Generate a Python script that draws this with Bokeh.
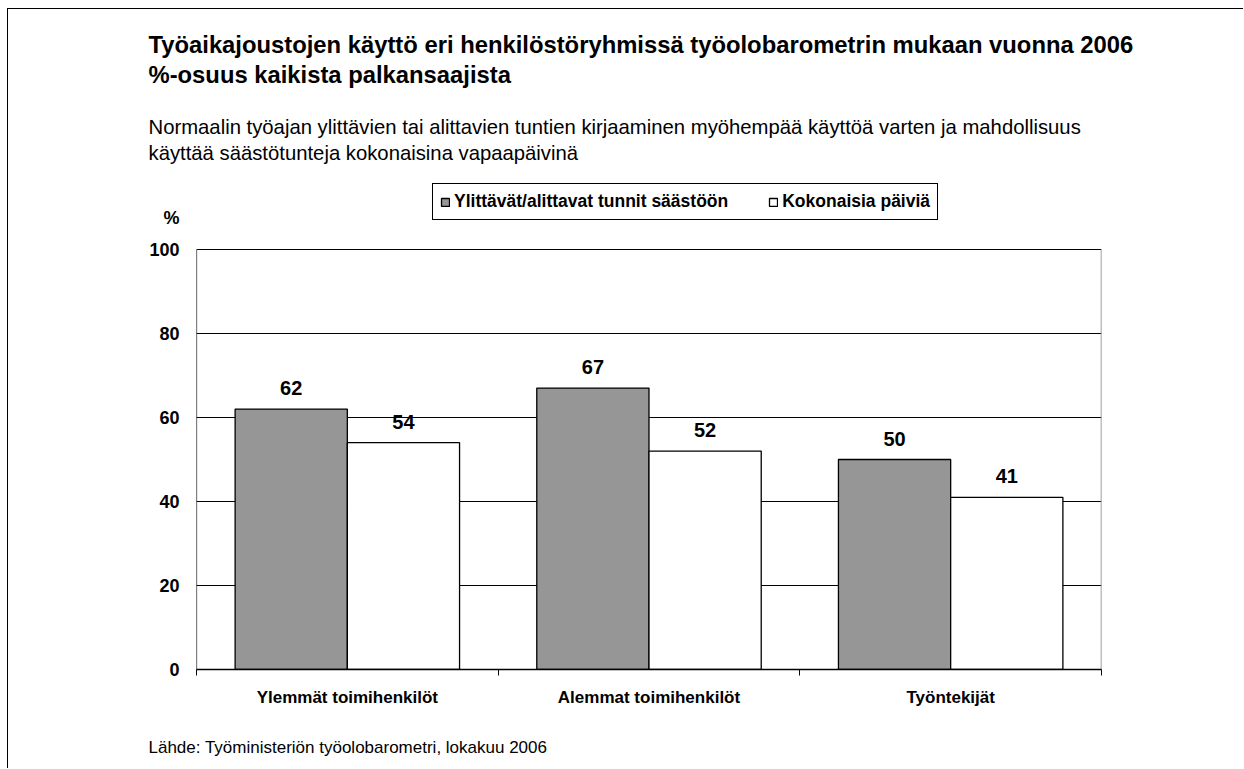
from bokeh.plotting import figure
from bokeh.models import (Range1d, FixedTicker, Legend, LegendItem, Title,
                          ColumnDataSource)
from bokeh.core.properties import value
from bokeh.embed import file_html
from bokeh.resources import INLINE

# ---- data ----
categories = ["Ylemmät toimihenkilöt", "Alemmat toimihenkilöt", "Työntekijät"]
series_names = ["Ylittävät/alittavat tunnit säästöön", "Kokonaisia päiviä"]
hours_saved = [62, 67, 50]
whole_days = [54, 52, 41]
y_ticks = [0, 20, 40, 60, 80, 100]
y_unit_label = "%"

title_lines = ["Työaikajoustojen käyttö eri henkilöstöryhmissä työolobarometrin mukaan vuonna 2006",
               "%-osuus kaikista palkansaajista"]
subtitle_lines = ["Normaalin työajan ylittävien tai alittavien tuntien kirjaaminen myöhempää käyttöä varten ja mahdollisuus",
                  "käyttää säästötunteja kokonaisina vapaapäivinä"]
source_text = "Lähde: Työministeriön työolobarometri, lokakuu 2006"

FONT = "Liberation Sans"
W, H = 1236, 760
BAR_W = 0.372
Y_TOP = 120.24     # frame extends above 100 to hold the legend
UNIT_POS = 107.4   # vertical position of the "%" unit label

p = figure(width=W, height=H, output_backend="svg", toolbar_location=None,
           x_range=Range1d(0, len(categories)), y_range=Range1d(0, Y_TOP),
           min_border_left=188, min_border_right=143, min_border_top=155, min_border_bottom=100)
p.outline_line_color = None
p.background_fill_color = "white"
p.border_fill_color = "white"
p.styles = {"border-top": "1px solid black", "border-left": "1px solid black",
            "margin-left": "7px", "margin-top": "8px"}

centers = [i + 0.5 for i in range(len(categories))]
x1 = [c - BAR_W / 2 for c in centers]
x2 = [c + BAR_W / 2 for c in centers]

src1 = ColumnDataSource(dict(x=x1, top=hours_saved, lab=[str(v) for v in hours_saved]))
src2 = ColumnDataSource(dict(x=x2, top=whole_days, lab=[str(v) for v in whole_days]))

# frame lines: left axis line (black) and right edge (grey)
p.segment(x0=[0], y0=[0], x1=[0], y1=[y_ticks[-1]], line_color="black", line_width=1.2)
p.segment(x0=[len(categories)], y0=[0], x1=[len(categories)], y1=[y_ticks[-1]],
          line_color="#808080", line_width=1.5)

r1 = p.vbar(x="x", top="top", bottom=0, width=BAR_W, source=src1,
            fill_color="#969696", line_color="black", line_width=1.3)
r2 = p.vbar(x="x", top="top", bottom=0, width=BAR_W, source=src2,
            fill_color="white", line_color="black", line_width=1.3)

for s in (src1, src2):
    p.text(x="x", y="top", text="lab", source=s, text_align="center", text_baseline="middle",
           y_offset=-21, text_font=value(FONT), text_font_style="bold",
           text_font_size="20px", text_color="black")

# x axis
p.xaxis.ticker = FixedTicker(ticks=centers, minor_ticks=list(range(len(categories) + 1)))
p.xaxis.major_label_overrides = {c: lab for c, lab in zip(centers, categories)}
p.xaxis.major_tick_line_color = None
p.xaxis.major_tick_out = 0
p.xaxis.major_tick_in = 0
p.xaxis.minor_tick_line_color = "black"
p.xaxis.minor_tick_in = 0
p.xaxis.minor_tick_out = 6
p.xaxis.axis_line_color = "black"
p.xaxis.axis_line_width = 1.3
p.xaxis.major_label_text_font = FONT
p.xaxis.major_label_text_font_style = "bold"
p.xaxis.major_label_text_font_size = "17px"
p.xaxis.major_label_text_color = "black"
p.xaxis.major_label_standoff = 12

# y axis (with the unit "%" as an extra label above 100)
p.yaxis.ticker = FixedTicker(ticks=y_ticks + [UNIT_POS])
p.yaxis.major_label_overrides = {UNIT_POS: y_unit_label}
p.yaxis.major_tick_line_color = None
p.yaxis.major_tick_out = 0
p.yaxis.major_tick_in = 0
p.yaxis.minor_tick_line_color = None
p.yaxis.axis_line_color = None
p.yaxis.major_label_text_font = FONT
p.yaxis.major_label_text_font_style = "bold"
p.yaxis.major_label_text_font_size = "18px"
p.yaxis.major_label_text_color = "black"
p.yaxis.major_label_standoff = 17

p.xgrid.grid_line_color = None
p.ygrid.ticker = FixedTicker(ticks=y_ticks)
p.ygrid.grid_line_color = "black"
p.ygrid.grid_line_width = 1

# legend (inside the frame, above the 100 line)
legend = Legend(items=[LegendItem(label=series_names[0], renderers=[r1]),
                       LegendItem(label=series_names[1], renderers=[r2])],
                orientation="horizontal", location=(236, 449))
legend.label_text_font = FONT
legend.label_text_font_style = "bold"
legend.label_text_font_size = "17.5px"
legend.label_text_color = "black"
legend.label_height = 18
legend.glyph_width = 10
legend.glyph_height = 10
legend.label_standoff = 4
legend.spacing = 40
legend.padding = 7
legend.margin = 0
legend.border_line_color = "black"
legend.border_line_alpha = 1
legend.border_line_width = 1
legend.background_fill_color = "white"
legend.background_fill_alpha = 1
p.add_layout(legend)

# titles (panels stack outward from the frame, nearest first)
def add_title(text, size, bold, standoff, side="above"):
    p.add_layout(Title(text=text, align="left", offset=-48, standoff=standoff,
                       text_font=FONT, text_font_size=size,
                       text_font_style="bold" if bold else "normal",
                       text_color="black"), side)

add_title(subtitle_lines[1], "20.3px", False, 2)
add_title(subtitle_lines[0], "20.3px", False, 1)
add_title("\u00a0", "16px", False, 7)            # vertical spacer
add_title(title_lines[1], "23.8px", True, 0)
add_title(title_lines[0], "23.8px", True, 1)

add_title("\u00a0", "14px", False, 7, side="below")  # vertical spacer
add_title(source_text, "17px", False, 2, side="below")

open("out.html", "w").write(file_html(p, INLINE))
